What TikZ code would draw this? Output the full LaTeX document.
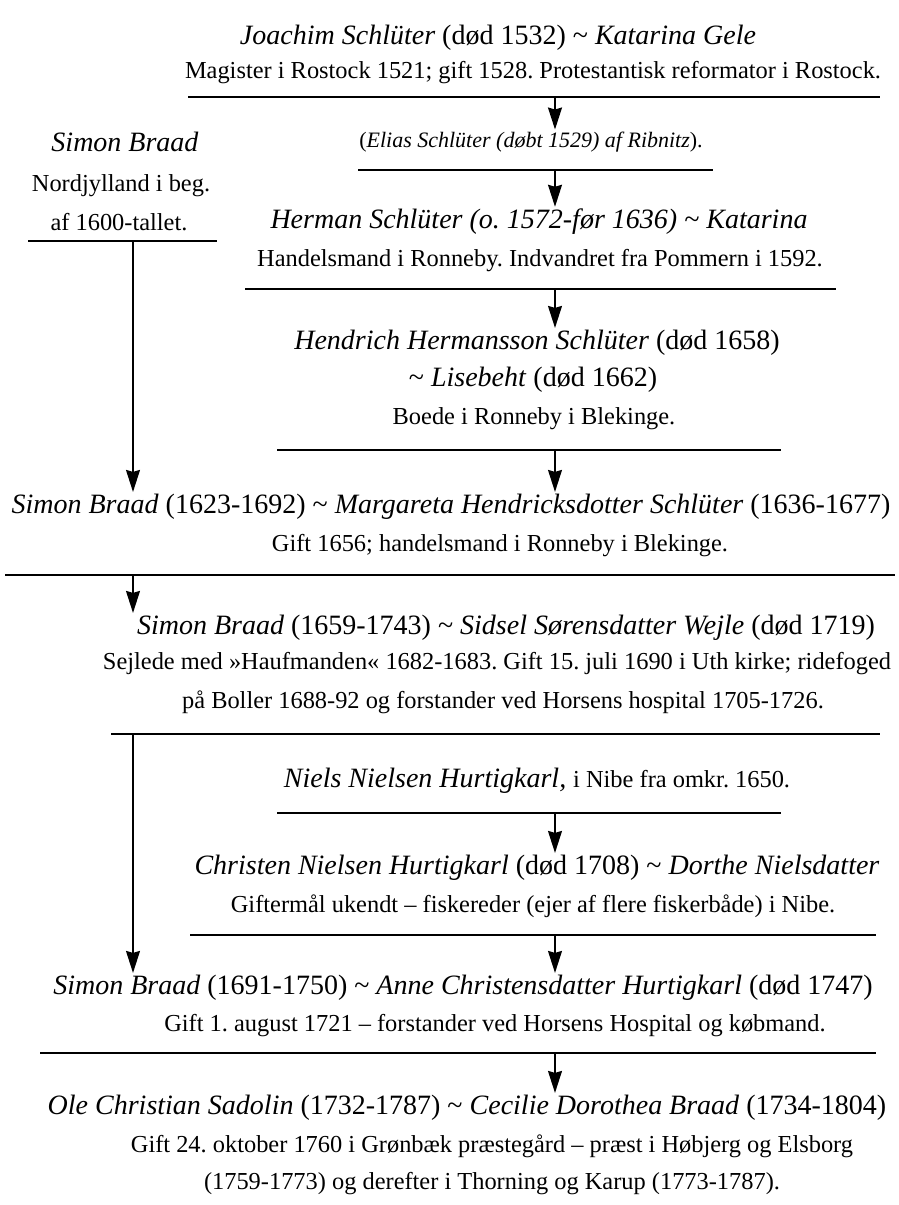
\documentclass[tikz,border=0pt]{standalone}
\usepackage{fontspec}
\setmainfont{Liberation Serif}
\usetikzlibrary{arrows.meta}
\frenchspacing

\begin{document}
\begin{tikzpicture}[x=0.5pt,y=-0.5pt,
    persline/.style={shape=rectangle,inner sep=1pt,
      font=\fontsize{14}{16}\selectfont},
    noteline/.style={shape=rectangle,inner sep=1pt,
      font=\fontsize{12.2}{14}\selectfont},
    eliasline/.style={shape=rectangle,inner sep=1pt,
      font=\fontsize{11}{13}\selectfont},
    hrule/.style={line width=1pt},
    descent/.style={-{Stealth[length=11pt,width=7pt,inset=1pt]},line width=0.7pt}]
      %\draw[help lines,step=50] (0,0) grid (899,1205); % for placing only
      \useasboundingbox (0,0) rectangle (899,1205);

      % Schlüter line
      \node[persline] (joachim) at (498,38)
        {\textit{Joachim Schlüter} (død 1532) \textasciitilde{} \textit{Katarina Gele}};
      \node[noteline] (magister) at (533,73)
        {Magister i Rostock 1521; gift 1528. Protestantisk reformator i Rostock.};
      \draw[hrule] (188,97) -- (880,97);
      \coordinate (r1) at (555,97);

      \node[eliasline] (elias) at (531,142)
        {(\textit{Elias Schlüter (døbt 1529) af Ribnitz}).};
      \draw[hrule] (358,170) -- (713,170);
      \coordinate (r2) at (555,170);

      \node[persline] (herman) at (539,222)
        {\textit{Herman Schlüter (o. 1572-før 1636) \textasciitilde{} Katarina}};
      \node[noteline] (handels) at (540,261)
        {Handelsmand i Ronneby. Indvandret fra Pommern i 1592.};
      \draw[hrule] (245,289) -- (836,289);
      \coordinate (r3) at (555,289);

      \node[persline] (hendrich) at (537,343)
        {\textit{Hendrich Hermansson Schlüter} (død 1658)};
      \node[persline] (lisebeht) at (533,380)
        {\textasciitilde{} \textit{Lisebeht} (død 1662)};
      \node[noteline] (boede) at (534,419)
        {Boede i Ronneby i Blekinge.};
      \draw[hrule] (277,450) -- (781,450);
      \coordinate (r4) at (555,450);

      % Braad line, left
      \node[persline] (simon) at (125,142) {\textit{Simon Braad}};
      \node[noteline] (nordj) at (121,186) {Nordjylland i beg.};
      \node[noteline] (tallet) at (119,222) {af 1600-tallet.};
      \draw[hrule] (28,241) -- (217,241);
      \coordinate (l1) at (133,241);

      \node[persline] (braadA) at (451,507)
        {\textit{Simon Braad} (1623-1692) \textasciitilde{} \textit{Margareta Hendricksdotter Schlüter} (1636-1677)};
      \node[noteline] (gift1656) at (500,546)
        {Gift 1656; handelsmand i Ronneby i Blekinge.};
      \draw[hrule] (5,575) -- (895,575);
      \coordinate (l2) at (133,575);

      \node[persline] (braadB) at (506,628)
        {\textit{Simon Braad} (1659-1743) \textasciitilde{} \textit{Sidsel Sørensdatter Wejle} (død 1719)};
      \node[noteline] (sejlede) at (497,664)
        {Sejlede med »Haufmanden« 1682-1683. Gift 15. juli 1690 i Uth kirke; ridefoged};
      \node[noteline] (boller) at (503,702)
        {på Boller 1688-92 og forstander ved Horsens hospital 1705-1726.};
      \draw[hrule] (111,734) -- (880,734);
      \coordinate (l3) at (133,734);

      % Hurtigkarl line
      \node[persline] (niels) at (537,781)
        {\textit{Niels Nielsen Hurtigkarl,} {\fontsize{12.2}{14}\selectfont i Nibe fra omkr. 1650.}};
      \draw[hrule] (277,813) -- (781,813);
      \coordinate (r7) at (555,813);

      \node[persline] (christen) at (537,868)
        {\textit{Christen Nielsen Hurtigkarl} (død 1708) \textasciitilde{} \textit{Dorthe Nielsdatter}};
      \node[noteline] (gifterm) at (533,906)
        {Giftermål ukendt – fiskereder (ejer af flere fiskerbåde) i Nibe.};
      \draw[hrule] (190,935) -- (876,935);
      \coordinate (r8) at (555,935);

      \node[persline] (braadC) at (463,988)
        {\textit{Simon Braad} (1691-1750) \textasciitilde{} \textit{Anne Christensdatter Hurtigkarl} (død 1747)};
      \node[noteline] (gift1721) at (495,1026)
        {Gift 1. august 1721 – forstander ved Horsens Hospital og købmand.};
      \draw[hrule] (40,1053) -- (876,1053);
      \coordinate (r9) at (555,1053);

      \node[persline] (ole) at (467,1108)
        {\textit{Ole Christian Sadolin} (1732-1787) \textasciitilde{} \textit{Cecilie Dorothea Braad} (1734-1804)};
      \node[noteline] (gift1760) at (492,1146)
        {Gift 24. oktober 1760 i Grønbæk præstegård – præst i Høbjerg og Elsborg};
      \node[noteline] (thorning) at (492,1184)
        {(1759-1773) og derefter i Thorning og Karup (1773-1787).};

      % descent arrows
      \draw[descent] (r1) -- (elias.north -| r1);
      \draw[descent] (r2) -- (herman.north -| r2);
      \draw[descent] (r3) -- (hendrich.north -| r3);
      \draw[descent] (r4) -- (braadA.north -| r4);
      \draw[descent] (l1) -- (braadA.north -| l1);
      \draw[descent] (l2) -- (braadB.north -| l2);
      \draw[descent] (r7) -- (christen.north -| r7);
      \draw[descent] (l3) -- (braadC.north -| l3);
      \draw[descent] (r8) -- (braadC.north -| r8);
      \draw[descent] (r9) -- (ole.north -| r9);
    \end{tikzpicture}
\end{document}
